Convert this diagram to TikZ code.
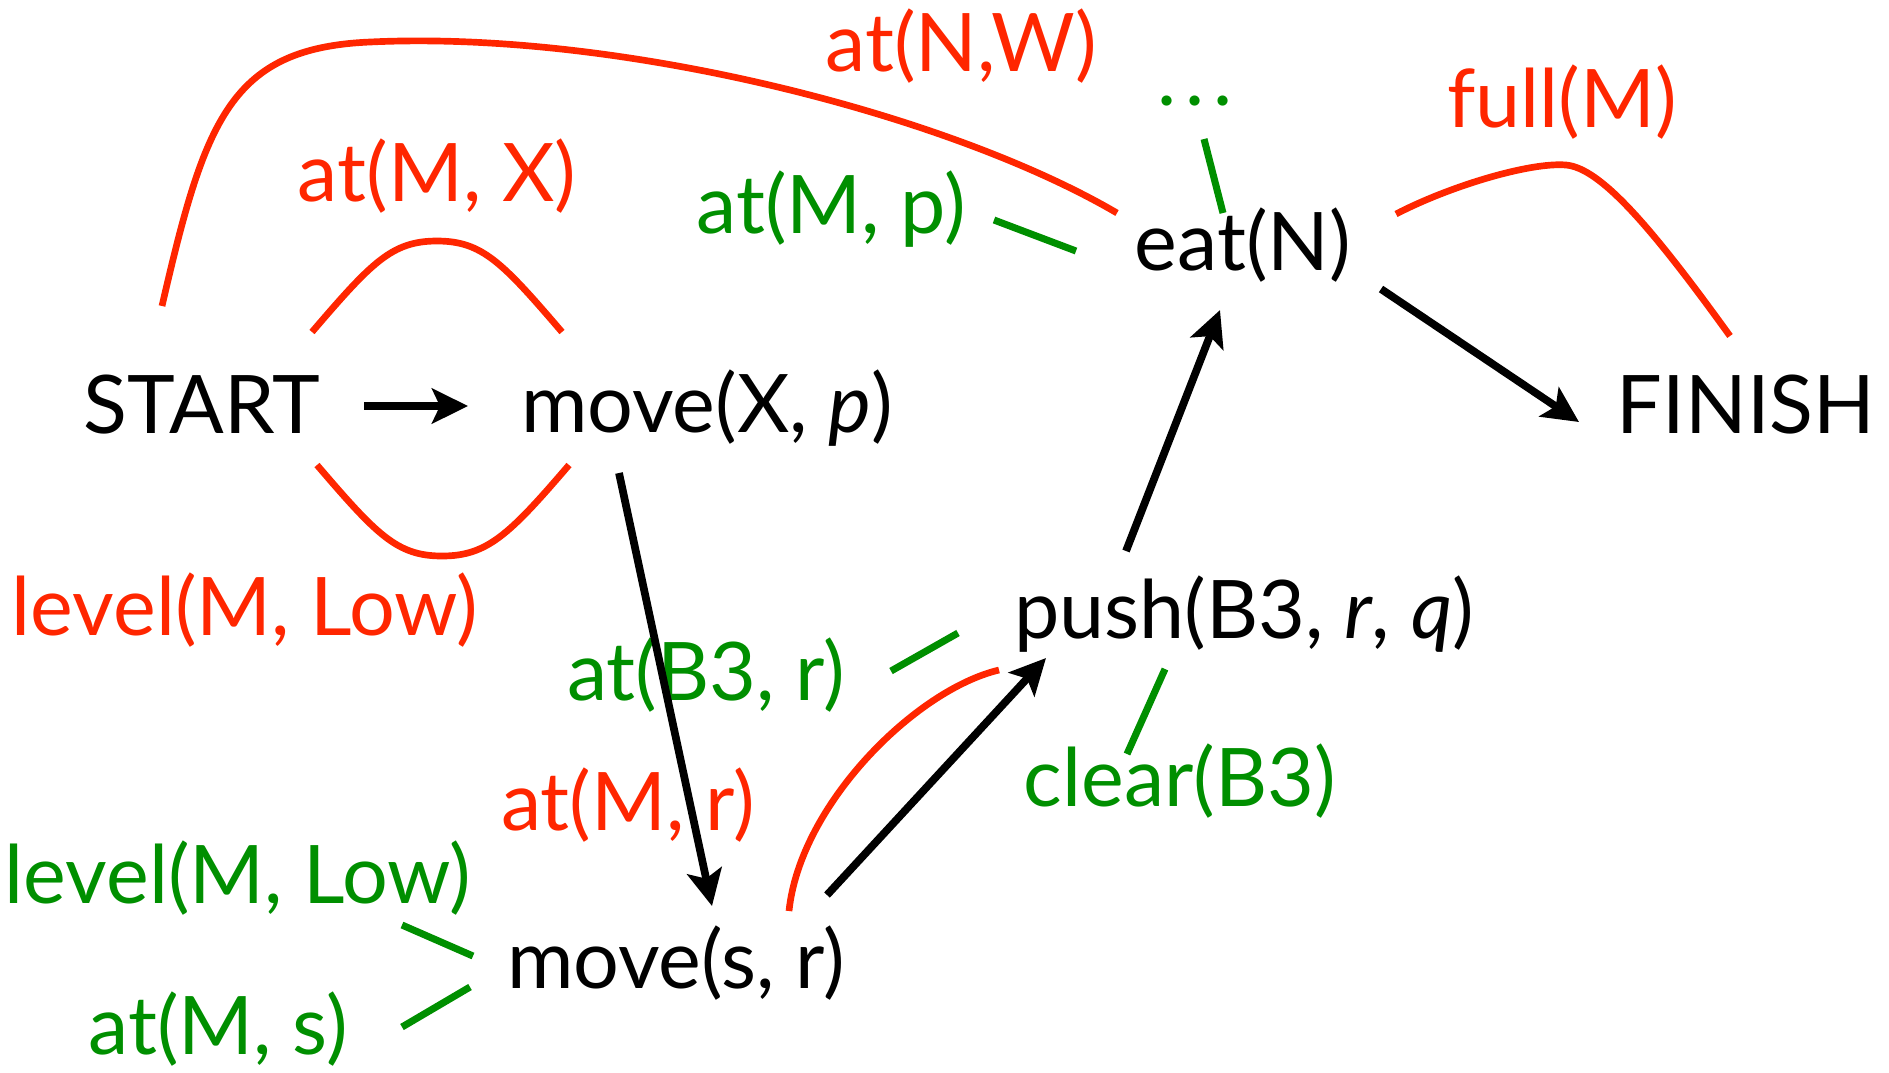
\documentclass[tikz,border=0pt]{standalone}
\usepackage{fontspec}
\setmainfont{Lato}
\usepackage{tikz}
\usetikzlibrary{arrows.meta,calc}
\definecolor{effred}{RGB}{255,38,0}
\definecolor{pregreen}{RGB}{0,143,0}
\tikzset{
  act/.style={anchor=base,inner sep=0pt,font=\fontsize{23}{27}\selectfont,text=black},
  effect/.style={act,text=effred},
  precond/.style={act,text=pregreen},
  order/.style={line width=2.2pt,-{Stealth[length=3.6mm,width=3.5mm,inset=0.8mm]}},
  causal/.style={line width=1.9pt,effred},
  support/.style={line width=2pt,pregreen}
}

\begin{document}
\begin{tikzpicture}[x=0.1mm,y=-0.1mm]
  \useasboundingbox (0,0) rectangle (1889,1072);
  \node[act] (start) at (202,433) {START};
  \node[act] (movexp) at (707,432) {move(X, \textit{p})};
  \node[act] (eatn) at (1243,270) {eat(N)};
  \node[act] (finish) at (1746,433) {FINISH};
  \node[act] (push) at (1244,638) {push(B3, \textit{r}, \textit{q})};
  \node[act] (movesr) at (676,988) {move(s, r)};
  \node[effect] (atnw) at (961,71) {at(N,W)};
  \node[effect] (atmx) at (437,201) {at(M, X)};
  \node[effect] (fullm) at (1562,127) {full(M)};
  \node[effect] (levelred) at (245,635) {level(M, Low)};
  \node[effect] (atmr) at (628,830) {at(M, r)};
  \node[precond] (dots) at (1195,105) {.\kern2.6pt.\kern2.6pt.};
  \node[precond] (atmp) at (831,233) {at(M, p)};
  \node[precond] (atb3r) at (706,700) {at(B3, r)};
  \node[precond] (clearb3) at (1180,806) {clear(B3)};
  \node[precond] (levelgreen) at (238,903) {level(M, Low)};
  \node[precond] (atms) at (218,1054) {at(M, s)};
  \draw[causal] ($(start.base)+(-40,-127)$) .. controls (205,120) and (230,48) .. (370,42)
    .. controls (620,30) and (950,115) .. ($(eatn.base)+(-126,-57)$);
  \draw[causal] ($(start.base)+(110,-101)$) .. controls (372,262) and (392,241) .. (437,241)
    .. controls (482,241) and (502,262) .. ($(movexp.base)+(-145,-100)$);
  \draw[causal] ($(start.base)+(115,32)$) .. controls (377,535) and (397,556) .. (442,556)
    .. controls (487,556) and (509,535) .. ($(movexp.base)+(-138,33)$);
  \draw[causal] ($(eatn.base)+(153,-56)$) .. controls (1450,186) and (1530,162) .. (1566,165)
    .. controls (1600,168) and (1650,225) .. ($(finish.base)+(-16,-97)$);
  \draw[causal] ($(movesr.base)+(113,-77)$) .. controls (800,805) and (915,690) .. ($(push.base)+(-245,32)$);
  \draw[support] ($(atmp.base)+(163,-13)$) -- ($(eatn.base)+(-167,-19)$);
  \draw[support] ($(dots.base)+(9,34)$) -- ($(eatn.base)+(-20,-57)$);
  \draw[support] ($(atb3r.base)+(185,-29)$) -- ($(push.base)+(-286,-5)$);
  \draw[support] ($(push.base)+(-79,31)$) -- ($(clearb3.base)+(-53,-52)$);
  \draw[support] ($(levelgreen.base)+(164,22)$) -- ($(movesr.base)+(-203,-32)$);
  \draw[support] ($(atms.base)+(184,-27)$) -- ($(movesr.base)+(-206,-1)$);
  \draw[order] ($(start.base)+(162,-27)$) -- ($(movexp.base)+(-239,-26)$);
  \draw[order] ($(movexp.base)+(-88,41)$) -- ($(movesr.base)+(36,-82)$);
  \draw[order] ($(movesr.base)+(151,-93)$) -- ($(push.base)+(-198,20)$);
  \draw[order] ($(push.base)+(-118,-87)$) -- ($(eatn.base)+(-23,40)$);
  \draw[order] ($(eatn.base)+(138,19)$) -- ($(finish.base)+(-167,-11)$);
\end{tikzpicture}
\end{document}
